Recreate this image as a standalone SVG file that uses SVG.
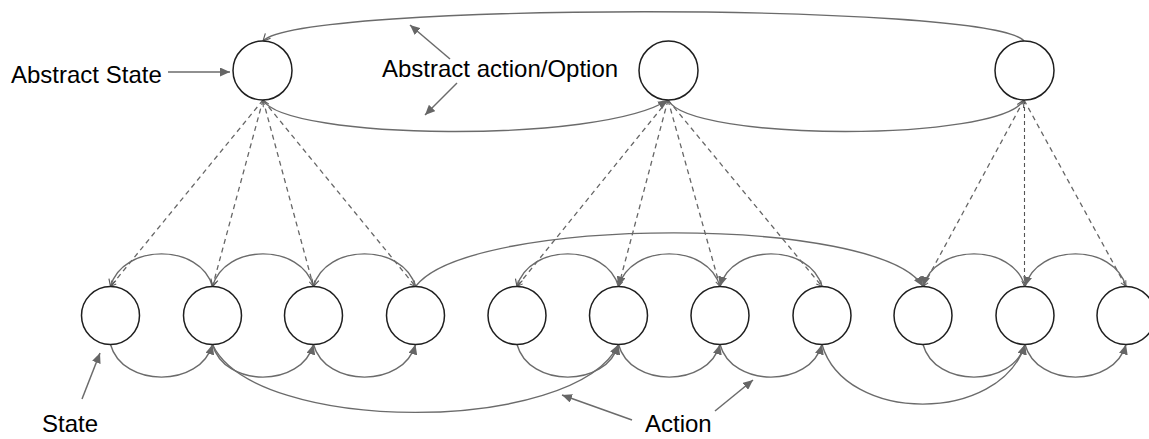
<svg xmlns="http://www.w3.org/2000/svg" width="1149" height="439" viewBox="0 0 1149 439">
  <style>
    .state { fill: #ffffff; stroke: #1f1f1f; stroke-width: 1.5; }
    .edge { fill: none; stroke: #6b6b6b; stroke-width: 1.4; }
    .dash { fill: none; stroke: #666666; stroke-width: 1.3; stroke-dasharray: 5 4; }
    .fine { fill: none; stroke: #555555; stroke-width: 1.1; stroke-dasharray: 4 3; }
    .pointer { fill: none; stroke: #6b6b6b; stroke-width: 1.5; }
    .label { font-family: "Liberation Sans", Arial, sans-serif; font-size: 24px; fill: #000000; }
  </style>
  <defs>
    <marker id="solid" viewBox="0 0 10 9" refX="10" refY="4.5" markerWidth="10" markerHeight="9" markerUnits="userSpaceOnUse" orient="auto">
      <path d="M0,0 L10,4.5 L0,9 z" fill="#666666"/>
    </marker>
    <marker id="open" viewBox="0 0 10 10" refX="9" refY="5" markerWidth="9" markerHeight="9" markerUnits="userSpaceOnUse" orient="auto">
      <path d="M1,1 L9,5 L1,9" fill="none" stroke="#5a5a5a" stroke-width="1.3"/>
    </marker>
    <marker id="openStart" viewBox="0 0 10 10" refX="9" refY="5" markerWidth="8" markerHeight="8" markerUnits="userSpaceOnUse" orient="auto-start-reverse">
      <path d="M1,1 L9,5 L1,9" fill="none" stroke="#5a5a5a" stroke-width="1.3"/>
    </marker>
    <marker id="small" viewBox="0 0 10 10" refX="9" refY="5" markerWidth="7" markerHeight="7" markerUnits="userSpaceOnUse" orient="auto">
      <path d="M1,1 L9,5 L1,9" fill="none" stroke="#5a5a5a" stroke-width="1.4"/>
    </marker>
  </defs>

  <!-- connectors -->
  <g id="connectors">
    <!-- abstract options between abstract states -->
    <path class="edge" d="M1024,41 C990,2 300,2 263,41" marker-end="url(#open)"/>
    <path class="edge" d="M263,100 C285,140 600,144 668,100" marker-start="url(#openStart)" marker-end="url(#solid)"/>
    <path class="edge" d="M668,100 C690,142 1000,142 1024,100" marker-end="url(#open)"/>

    <!-- abstraction links: abstract state 1 -->
    <path class="dash" d="M263,100 L110.5,286.5" marker-end="url(#small)"/>
    <path class="dash" d="M263,100 L212.5,286.5" marker-end="url(#small)"/>
    <path class="dash" d="M263,100 L313.5,286.5" marker-end="url(#small)"/>
    <path class="dash" d="M263,100 L415.5,286.5" marker-end="url(#small)"/>
    <!-- abstract state 2 -->
    <path class="dash" d="M668,100 L517,286.5" marker-end="url(#small)"/>
    <path class="dash" d="M668,100 L618.5,286.5" marker-end="url(#small)"/>
    <path class="dash" d="M668,100 L720,286.5" marker-end="url(#small)"/>
    <path class="dash" d="M668,100 L822,286.5" marker-end="url(#small)"/>
    <!-- abstract state 3 -->
    <path class="dash" d="M1024,100 L923,286.5" marker-end="url(#small)"/>
    <path class="fine" d="M1024.5,100 L1024.5,286.5" marker-end="url(#small)"/>
    <path class="dash" d="M1024,100 L1126,286.5" marker-end="url(#small)"/>

    <!-- primitive actions, upper arcs (right to left) -->
    <path class="edge" d="M212.5,286.5 C200.5,243 122.5,243 110.5,286.5" marker-end="url(#open)"/>
    <path class="edge" d="M313.5,286.5 C301.5,243 224.5,243 212.5,286.5" marker-end="url(#open)"/>
    <path class="edge" d="M415.5,286.5 C403.5,243 325.5,243 313.5,286.5" marker-end="url(#open)"/>
    <path class="edge" d="M618.5,286.5 C606.5,243 529,243 517,286.5" marker-end="url(#open)"/>
    <path class="edge" d="M720,286.5 C708,243 630.5,243 618.5,286.5" marker-end="url(#solid)"/>
    <path class="edge" d="M822,286.5 C810,243 732,243 720,286.5" marker-end="url(#solid)"/>
    <path class="edge" d="M1025,286.5 C1013,243 935,243 923,286.5" marker-end="url(#solid)"/>
    <path class="edge" d="M1126,286.5 C1114,243 1037,243 1025,286.5" marker-end="url(#solid)"/>
    <!-- long upper arc -->
    <path class="edge" d="M415.5,286.5 C470,215 880,215 923,286.5" marker-end="url(#solid)"/>

    <!-- primitive actions, lower arcs (left to right) -->
    <path class="edge" d="M110.5,344.5 C122.5,388 200.5,388 212.5,344.5" marker-end="url(#solid)"/>
    <path class="edge" d="M212.5,344.5 C224.5,388 301.5,388 313.5,344.5" marker-end="url(#solid)"/>
    <path class="edge" d="M313.5,344.5 C325.5,388 403.5,388 415.5,344.5" marker-end="url(#solid)"/>
    <path class="edge" d="M517,344.5 C529,388 606.5,388 618.5,344.5" marker-end="url(#solid)"/>
    <path class="edge" d="M618.5,344.5 C630.5,388 708,388 720,344.5" marker-end="url(#solid)"/>
    <path class="edge" d="M720,344.5 C732,388 810,388 822,344.5" marker-end="url(#solid)"/>
    <path class="edge" d="M923,344.5 C935,388 1013,388 1025,344.5" marker-end="url(#solid)"/>
    <path class="edge" d="M1025,344.5 C1037,388 1114,388 1126,344.5" marker-end="url(#solid)"/>
    <!-- long lower arcs -->
    <path class="edge" d="M212.5,344.5 C255,435 575,435 618.5,344.5" marker-end="url(#solid)"/>
    <path class="edge" d="M822,344.5 C845,424 1000,424 1025,344.5" marker-end="url(#solid)"/>

    <!-- label pointers -->
    <path class="pointer" d="M168,72 L230,72" marker-end="url(#solid)"/>
    <path class="pointer" d="M450,59 L410,25" marker-end="url(#solid)"/>
    <path class="pointer" d="M457,83 L425,115" marker-end="url(#solid)"/>
    <path class="pointer" d="M82,399 L100,353" marker-end="url(#solid)"/>
    <path class="pointer" d="M632,420 L562,395" marker-end="url(#solid)"/>
    <path class="pointer" d="M715,411 L753,380" marker-end="url(#solid)"/>
  </g>

  <!-- abstract states -->
  <g id="abstract-1"><circle class="state" cx="262.5" cy="70.5" r="29.5"/></g>
  <g id="abstract-2"><circle class="state" cx="668.5" cy="70.5" r="29.5"/></g>
  <g id="abstract-3"><circle class="state" cx="1024.5" cy="70.5" r="29.5"/></g>

  <!-- primitive states -->
  <g id="state-1"><circle class="state" cx="110.5" cy="315.5" r="29"/></g>
  <g id="state-2"><circle class="state" cx="212.5" cy="315.5" r="29"/></g>
  <g id="state-3"><circle class="state" cx="313.5" cy="315.5" r="29"/></g>
  <g id="state-4"><circle class="state" cx="415.5" cy="315.5" r="29"/></g>
  <g id="state-5"><circle class="state" cx="517" cy="315.5" r="29"/></g>
  <g id="state-6"><circle class="state" cx="618.5" cy="315.5" r="29"/></g>
  <g id="state-7"><circle class="state" cx="720" cy="315.5" r="29"/></g>
  <g id="state-8"><circle class="state" cx="822" cy="315.5" r="29"/></g>
  <g id="state-9"><circle class="state" cx="923" cy="315.5" r="29"/></g>
  <g id="state-10"><circle class="state" cx="1025" cy="315.5" r="29"/></g>
  <g id="state-11"><circle class="state" cx="1126" cy="315.5" r="29"/></g>

  <!-- labels -->
  <g id="label-abstract-state"><text class="label" x="11" y="83">Abstract State</text></g>
  <g id="label-option"><text class="label" x="382" y="77">Abstract action/Option</text></g>
  <g id="label-state"><text class="label" x="42" y="432">State</text></g>
  <g id="label-action"><text class="label" x="645" y="432">Action</text></g>
</svg>
